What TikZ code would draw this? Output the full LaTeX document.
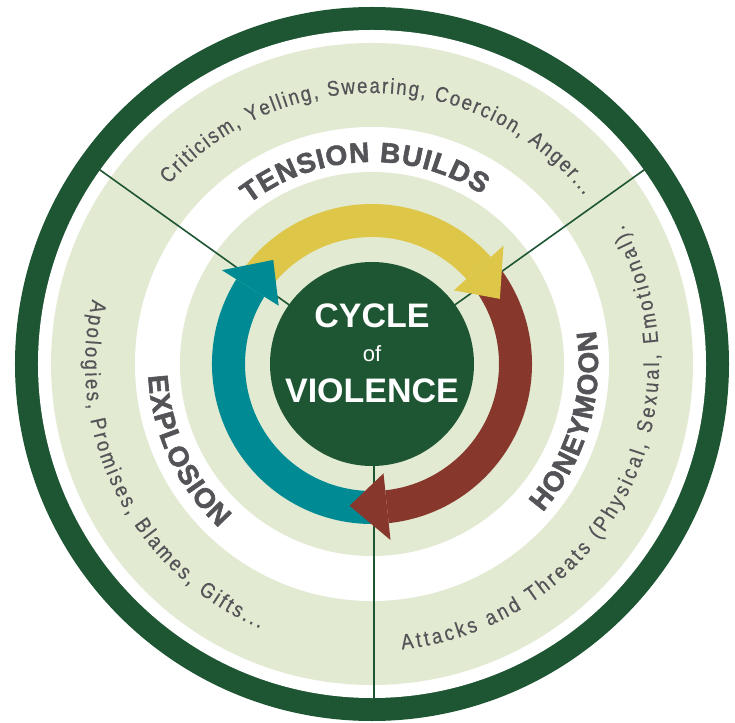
\documentclass[tikz,border=0pt]{standalone}
\usepackage{fontspec}
\setmainfont{Liberation Sans}
\newfontfamily\narrowfont{Liberation Sans}[FakeStretch=0.86, UprightFeatures={FakeBold=0.5}]
\newfontfamily\heavyfont{Liberation Sans}[BoldFeatures={FakeBold=2}]
\usetikzlibrary{decorations.text}
\definecolor{dkgreen}{RGB}{30,86,52}
\definecolor{ltgreen}{RGB}{226,234,210}
\definecolor{arrowyellow}{RGB}{222,198,72}
\definecolor{arrowred}{RGB}{136,55,45}
\definecolor{arrowteal}{RGB}{0,138,147}
\definecolor{txtgray}{RGB}{84,84,88}
\newcommand\smalltxt{\narrowfont\fontsize{21.5}{22}\selectfont}
\newcommand\phasetxt{\heavyfont\fontsize{28}{28}\selectfont\bfseries}
\newcommand\arcshaft[3]{%
  \fill[#1] (#2:127pt) arc[start angle=#2, end angle=#3, radius=127pt]
    -- (#3:160pt) arc[start angle=#3, end angle=#2, radius=160pt] -- cycle;}
\newcommand\archead[3]{%
  \fill[#1] (#2:110pt) -- (#3:143.5pt) -- (#2:177pt) -- cycle;}
\begin{document}
\begin{tikzpicture}[x=1pt,y=1pt,
  divider/.style={draw=dkgreen, line width=1.6pt},
  hubtext/.style={text=white, inner sep=0pt, anchor=base},
]
\useasboundingbox (-372,-358) rectangle (363,364);
% rings
\fill[dkgreen] (0,0) circle[radius=357pt];
\fill[white] (0,0) circle[radius=334pt];
\fill[ltgreen] (0,0) circle[radius=321pt];
\fill[white] (0,0) circle[radius=237pt];
\fill[ltgreen] (0,0) circle[radius=192pt];
% dividers
\draw[divider] (144.5:100pt) -- (144.5:336pt);
\draw[divider] (35.5:100pt) -- (35.5:336pt);
\draw[divider] (2,-100) -- (2,-336);
% arrow shafts
\arcshaft{arrowyellow}{146}{42}
\arcshaft{arrowred}{40}{-84}
\arcshaft{arrowteal}{274}{148}
% arrow heads
\archead{arrowyellow}{42}{27}
\archead{arrowred}{-84}{-99}
\archead{arrowteal}{148}{133.5}
% hub
\node[circle, fill=dkgreen, minimum size=204pt, inner sep=0pt] (hub) at (0,0) {};
\node[hubtext, font=\fontsize{34}{34}\selectfont\bfseries] (cycle) at (0,36) {CYCLE};
\node[hubtext, font=\fontsize{22}{22}\selectfont] (of) at (0,2) {of};
\node[hubtext, font=\fontsize{34}{34}\selectfont\bfseries] (violence) at (0,-38) {VIOLENCE};
% phase labels
\path[decorate, decoration={text along path, text align=fit to path, text color=txtgray,
  text={|\phasetxt|TENSION BUILDS}}]
  (127.5:202pt) arc[start angle=127.5, end angle=57, radius=202pt];
\path[decorate, decoration={text along path, text align=fit to path, text color=txtgray,
  text={|\phasetxt|HONEYMOON}}]
  (-41:226pt) arc[start angle=-41, end angle=8.5, radius=226pt];
\path[decorate, decoration={text along path, text align=fit to path, text color=txtgray,
  text={|\phasetxt|EXPLOSION}}]
  (183:224pt) arc[start angle=183, end angle=227, radius=224pt];
% descriptions
\path[decorate, decoration={text along path, text align=fit to path, text color=txtgray,
  text={|\smalltxt|Criticism, Yelling, Swearing, Coercion, Anger...}}]
  (138.5:271pt) arc[start angle=138.5, end angle=38.5, radius=271pt];
\path[decorate, decoration={text along path, text align=fit to path, text color=txtgray,
  text={|\smalltxt|Attacks and Threats (Physical, Sexual, Emotional).}}]
  (-84:287pt) arc[start angle=-84, end angle=29, radius=287pt];
\path[decorate, decoration={text along path, text align=fit to path, text color=txtgray,
  text={|\smalltxt|Apologies, Promises, Blames, Gifts...}}]
  (167:287pt) arc[start angle=167, end angle=247, radius=287pt];
\end{tikzpicture}
\end{document}
